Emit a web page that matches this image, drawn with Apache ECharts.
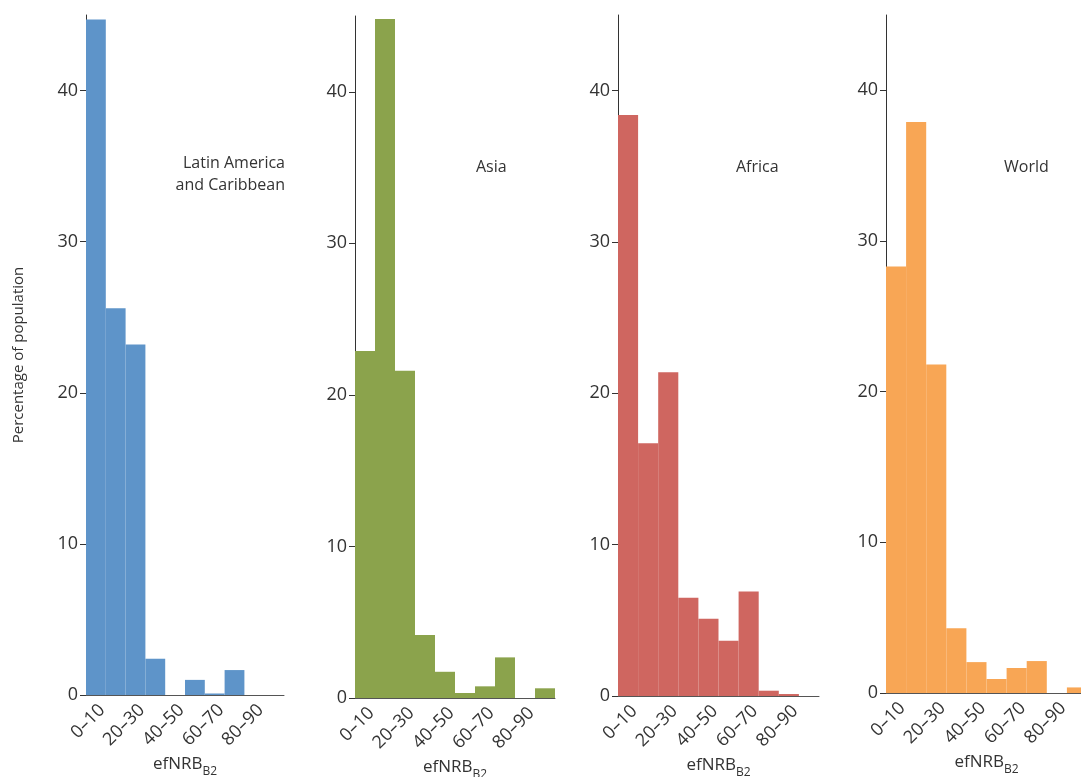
<!DOCTYPE html>
<html>
<head>
<meta charset="utf-8">
<script src="https://cdn.jsdelivr.net/npm/echarts@6/dist/echarts.min.js"></script>
<style>html,body{margin:0;padding:0;background:#fff;}#c{width:1081px;height:777px;}</style>
</head>
<body>
<div id="c"></div>
<script>
var categories = ["0–10","10–20","20–30","30–40","40–50","50–60","60–70","70–80","80–90","90–100"];
var latinAmerica = [44.7, 25.6, 23.2, 2.4, 0, 1.0, 0.1, 1.65, 0, 0];
var asia = [22.9, 44.8, 21.6, 4.15, 1.73, 0.33, 0.77, 2.68, 0, 0.64];
var africa = [38.4, 16.7, 21.4, 6.5, 5.1, 3.65, 6.9, 0.35, 0.13, 0];
var world = [28.3, 37.9, 21.8, 4.3, 2.05, 0.93, 1.66, 2.12, 0, 0.37];
var yTicks = [0, 10, 20, 30, 40];
var panelNames = ["Latin America\nand Caribbean", "Asia", "Africa", "World"];

var seriesData = [latinAmerica, asia, africa, world];
var colors = ["#5e94c9", "#8ba34c", "#cf6660", "#f8a655"];
var grids = [
  {left: 86, top: 15, width: 198, height: 680, outerBoundsMode: "none", containLabel: false},
  {left: 355, top: 16, width: 200, height: 682, outerBoundsMode: "none", containLabel: false},
  {left: 618, top: 15, width: 201, height: 681, outerBoundsMode: "none", containLabel: false},
  {left: 886, top: 15, width: 201, height: 678, outerBoundsMode: "none", containLabel: false}
];
var font = "'Open Sans', 'Noto Sans', sans-serif";
var option = {
  animation: false,
  backgroundColor: "#fff",
  grid: grids,
  xAxis: grids.map(function(g, i){
    return {
      type: "category", gridIndex: i, data: categories,
      boundaryGap: true,
      axisLine: {lineStyle: {color: "#555", width: 1}},
      axisTick: {interval: 0, length: 6, lineStyle: {color: "#555"}},
      axisLabel: {interval: 1, rotate: 45, margin: 6, verticalAlign: "top", color: "#333", fontSize: 18, fontFamily: font},
      name: "{a|efNRB}{b|B2}",
      nameLocation: "middle", nameGap: 61, nameMoveOverlap: false,
      nameTextStyle: {
        rich: {
          a: {fontSize: 17, color: "#333", fontFamily: font, verticalAlign: "bottom"},
          b: {fontSize: 12, color: "#333", fontFamily: font, verticalAlign: "bottom", padding: [0,0,-5,0]}
        }
      }
    };
  }),
  yAxis: grids.map(function(g, i){
    return {
      type: "value", gridIndex: i, min: 0, max: 45, interval: 10,
      splitLine: {show: false},
      axisLine: {show: true, lineStyle: {color: "#333", width: 1}},
      axisTick: {show: true, length: 6, customValues: yTicks, lineStyle: {color: "#333"}},
      axisLabel: {customValues: yTicks, margin: 8, color: "#333", fontSize: 18, fontFamily: font},
      name: i === 0 ? "Percentage of population" : "",
      nameLocation: "middle", nameGap: 60, nameMoveOverlap: false,
      nameTextStyle: {fontSize: 15, color: "#333", fontFamily: font}
    };
  }),
  series: seriesData.map(function(d, i){
    return {
      type: "bar", xAxisIndex: i, yAxisIndex: i, data: d,
      barCategoryGap: "0%", barWidth: "100%",
      itemStyle: {color: colors[i]},
      clip: true
    };
  }),
  graphic: [
    {type: "text", x: 285, y: 152, style: {text: panelNames[0], align: "right", fontSize: 16, lineHeight: 22, fill: "#333", fontFamily: font}},
    {type: "text", left: 476, top: 159, style: {text: panelNames[1], fontSize: 16, fill: "#333", fontFamily: font}},
    {type: "text", left: 736, top: 159, style: {text: panelNames[2], fontSize: 16, fill: "#333", fontFamily: font}},
    {type: "text", left: 1004, top: 159, style: {text: panelNames[3], fontSize: 16, fill: "#333", fontFamily: font}}
  ]
};
var chart = echarts.init(document.getElementById("c"));
chart.setOption(option);
</script>
</body>
</html>
